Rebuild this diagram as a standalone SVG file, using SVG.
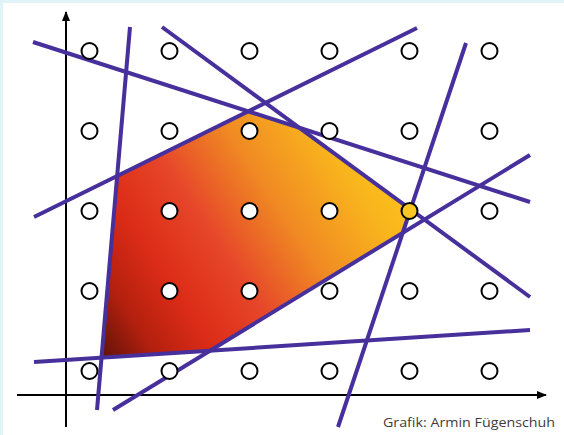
<svg xmlns="http://www.w3.org/2000/svg" width="564" height="435" viewBox="0 0 564 435">
  <defs>
    <linearGradient id="fill" gradientUnits="userSpaceOnUse" x1="100" y1="360" x2="400" y2="160">
      <stop offset="0" stop-color="#5a1208"/>
      <stop offset="0.14" stop-color="#b4200e"/>
      <stop offset="0.28" stop-color="#dc2c17"/>
      <stop offset="0.45" stop-color="#e6462a"/>
      <stop offset="0.65" stop-color="#f08a23"/>
      <stop offset="0.85" stop-color="#f9b41d"/>
      <stop offset="1" stop-color="#fcc61b"/>
    </linearGradient>
    <marker id="arrow" viewBox="0 0 10 8" refX="9" refY="4" markerWidth="10" markerHeight="8" markerUnits="userSpaceOnUse" orient="auto">
      <path d="M0,0 L10,4 L0,8 Z" fill="#000"/>
    </marker>
    <style>
      .ln { stroke: #47309c; stroke-width: 4; fill: none; stroke-linecap: butt; }
      .ax { stroke: #000; stroke-width: 2; fill: none; }
      .pt { fill: #fff; stroke: #000; stroke-width: 2; }
      .cap { font-family: "Open Sans", "Liberation Sans", sans-serif; font-size: 13.5px; fill: #3c3c3c; }
    </style>
  </defs>
  <rect x="0" y="0" width="564" height="435" fill="#e0f4f8"/>
  <rect x="3" y="3" width="561" height="432" fill="#fff"/>

  <g id="region">
    <polygon points="117.3,176 247.1,111.8 301.7,129.6 410.6,209.4 402.7,233 210,350.6 101.5,357.6" fill="url(#fill)"/>
  </g>

  <g id="axes">
    <line class="ax" x1="66" y1="427" x2="66" y2="12" marker-end="url(#arrow)"/>
    <line class="ax" x1="17" y1="395" x2="546" y2="395" marker-end="url(#arrow)"/>
  </g>

  <g id="connectors">
    <line class="ln" x1="33" y1="42" x2="530" y2="202"/>
    <line class="ln" x1="130" y1="27" x2="97" y2="410"/>
    <line class="ln" x1="162" y1="27" x2="530" y2="297"/>
    <line class="ln" x1="34" y1="217" x2="417" y2="28"/>
    <line class="ln" x1="466" y1="43" x2="338" y2="427"/>
    <line class="ln" x1="113" y1="410" x2="530" y2="155"/>
    <line class="ln" x1="34" y1="362" x2="530" y2="330"/>
  </g>

  <g id="points">
    <g id="row1">
      <circle class="pt" cx="89.5" cy="51" r="8"/>
      <circle class="pt" cx="169.5" cy="51" r="8"/>
      <circle class="pt" cx="249.5" cy="51" r="8"/>
      <circle class="pt" cx="329.5" cy="51" r="8"/>
      <circle class="pt" cx="409.5" cy="51" r="8"/>
      <circle class="pt" cx="489.5" cy="51" r="8"/>
    </g>
    <g id="row2">
      <circle class="pt" cx="89.5" cy="131" r="8"/>
      <circle class="pt" cx="169.5" cy="131" r="8"/>
      <circle class="pt" cx="249.5" cy="131" r="8"/>
      <circle class="pt" cx="329.5" cy="131" r="8"/>
      <circle class="pt" cx="409.5" cy="131" r="8"/>
      <circle class="pt" cx="489.5" cy="131" r="8"/>
    </g>
    <g id="row3">
      <circle class="pt" cx="89.5" cy="211" r="8"/>
      <circle class="pt" cx="169.5" cy="211" r="8"/>
      <circle class="pt" cx="249.5" cy="211" r="8"/>
      <circle class="pt" cx="329.5" cy="211" r="8"/>
      <circle id="optimum" class="pt" cx="409.5" cy="211" r="8" style="fill:#f9c623"/>
      <circle class="pt" cx="489.5" cy="211" r="8"/>
    </g>
    <g id="row4">
      <circle class="pt" cx="89.5" cy="291" r="8"/>
      <circle class="pt" cx="169.5" cy="291" r="8"/>
      <circle class="pt" cx="249.5" cy="291" r="8"/>
      <circle class="pt" cx="329.5" cy="291" r="8"/>
      <circle class="pt" cx="409.5" cy="291" r="8"/>
      <circle class="pt" cx="489.5" cy="291" r="8"/>
    </g>
    <g id="row5">
      <circle class="pt" cx="89.5" cy="371" r="8"/>
      <circle class="pt" cx="169.5" cy="371" r="8"/>
      <circle class="pt" cx="249.5" cy="371" r="8"/>
      <circle class="pt" cx="329.5" cy="371" r="8"/>
      <circle class="pt" cx="409.5" cy="371" r="8"/>
      <circle class="pt" cx="489.5" cy="371" r="8"/>
    </g>
  </g>

  <text class="cap" x="383" y="427" textLength="172" lengthAdjust="spacingAndGlyphs">Grafik: Armin Fügenschuh</text>
</svg>
